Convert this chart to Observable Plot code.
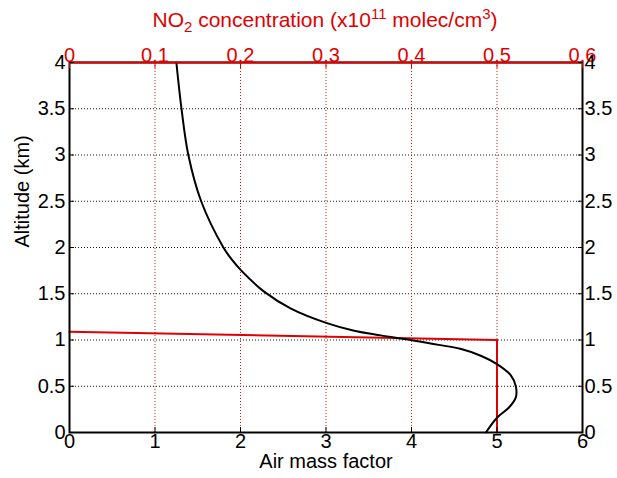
<!DOCTYPE html>
<html><head><meta charset="utf-8">
<script src="https://cdn.jsdelivr.net/npm/d3@7"></script>
<script src="https://cdn.jsdelivr.net/npm/@observablehq/plot@0.6"></script>
<style>
body{margin:0;background:#fff}
svg{font-family:"Liberation Sans",Arial,sans-serif}
</style>
</head><body><div id="chart"></div>
<script>
// Air mass factor profile (black)
const amfAltitude = [0, 0.16, 0.27, 0.38, 0.5, 0.62, 0.74, 0.83, 0.905, 0.95, 1.0, 1.05, 1.10, 1.18, 1.34, 1.52, 1.75, 1.88, 2.0, 2.5, 3.0, 3.5, 4.0];
const amfValues   = [4.87, 5.0, 5.14, 5.22, 5.22, 5.16, 5.0, 4.81, 4.57, 4.3, 3.99, 3.64, 3.33, 3.02, 2.59, 2.28, 2.01, 1.89, 1.80, 1.54, 1.39, 1.31, 1.25];
// NO2 concentration profile (red), x10^11 molec/cm^3
const no2Altitude = [0, 1.0, 1.09];
const no2Values   = [0.5, 0.5, 0.0];
// Ticks
const amfTicks = [0, 1, 2, 3, 4, 5, 6];
const no2Ticks = [0, 0.1, 0.2, 0.3, 0.4, 0.5, 0.6];
const altTicks = [0, 0.5, 1, 1.5, 2, 2.5, 3, 3.5, 4];
const altTickLabels = ["0", "0.5", "1", "1.5", "2", "2.5", "3", "3.5", "4"];

const amfData = amfValues.map((v, i) => ({amf: v, alt: amfAltitude[i]}));
const no2Data = no2Values.map((v, i) => ({amf: v * 10, alt: no2Altitude[i]}));
const ratio = amfTicks[amfTicks.length - 1] / no2Ticks[no2Ticks.length - 1];

const plot = Plot.plot({
  width: 617,
  height: 478,
  marginLeft: 69,
  marginRight: 35,
  marginTop: 62,
  marginBottom: 46,
  style: {fontFamily: '"Liberation Sans", Arial, sans-serif', color: "black", background: "white"},
  x: {domain: [0, 6]},
  y: {domain: [0, 4]},
  marks: [
    Plot.gridY(altTicks.slice(1, -1), {stroke: "black", strokeOpacity: 0.9, strokeDasharray: "1,2"}),
    Plot.gridX(amfTicks.slice(1, -1), {stroke: "#d00", strokeOpacity: 0.9, strokeDasharray: "1,2"}),
    Plot.line(no2Data, {x: "amf", y: "alt", stroke: "#e00000", strokeWidth: 2}),
    Plot.line(amfData, {x: "amf", y: "alt", stroke: "black", strokeWidth: 2, curve: "catmull-rom"}),
    Plot.frame({stroke: "black", strokeWidth: 2}),
    Plot.ruleY([4], {stroke: "#e00000", strokeWidth: 2}),
    Plot.axisX(amfTicks, {anchor: "bottom", tickSize: -5, tickPadding: 6, label: null, tickFormat: d => String(d)}),
    Plot.axisX(no2Ticks.map(d => d * ratio), {anchor: "top", tickSize: -5, tickPadding: 6, label: null, stroke: "#e00000", color: "#e00000", fill: "#e00000", tickFormat: d => String(+(d / ratio).toFixed(1))}),
    Plot.axisY(altTicks, {anchor: "left", tickSize: -5, tickPadding: 9, label: null, tickFormat: (d, i) => altTickLabels[i]}),
    Plot.axisY(altTicks, {anchor: "right", tickSize: -5, tickPadding: 7, label: null, tickFormat: (d, i) => altTickLabels[i]}),
    Plot.text(["Air mass factor"], {frameAnchor: "bottom", dy: 35, fill: "black"}),
    Plot.text(["Altitude (km)"], {frameAnchor: "left", dx: -47, rotate: -90, fill: "black"})
  ]
});

document.getElementById("chart").appendChild(plot);

const svg = d3.select(plot);
svg.selectAll("text").style("font-size", "20px");
svg.selectAll('g[aria-label="text"] text').style("font-size", "20px");

// Top title with subscript / superscripts
const t = svg.append("text")
  .attr("x", 325).attr("y", 27)
  .attr("text-anchor", "middle")
  .attr("fill", "#e00000")
  .style("font-size", "21px")
  .attr("font-family", '"Liberation Sans", Arial, sans-serif');
t.append("tspan").text("NO");
t.append("tspan").style("font-size", "15px").attr("dy", 5).text("2");
t.append("tspan").attr("dy", -5).text(" concentration (x10");
t.append("tspan").style("font-size", "15px").attr("dy", -8).text("11");
t.append("tspan").attr("dy", 8).text(" molec/cm");
t.append("tspan").style("font-size", "15px").attr("dy", -8).text("3");
t.append("tspan").attr("dy", 8).text(")");
</script>
</body></html>
